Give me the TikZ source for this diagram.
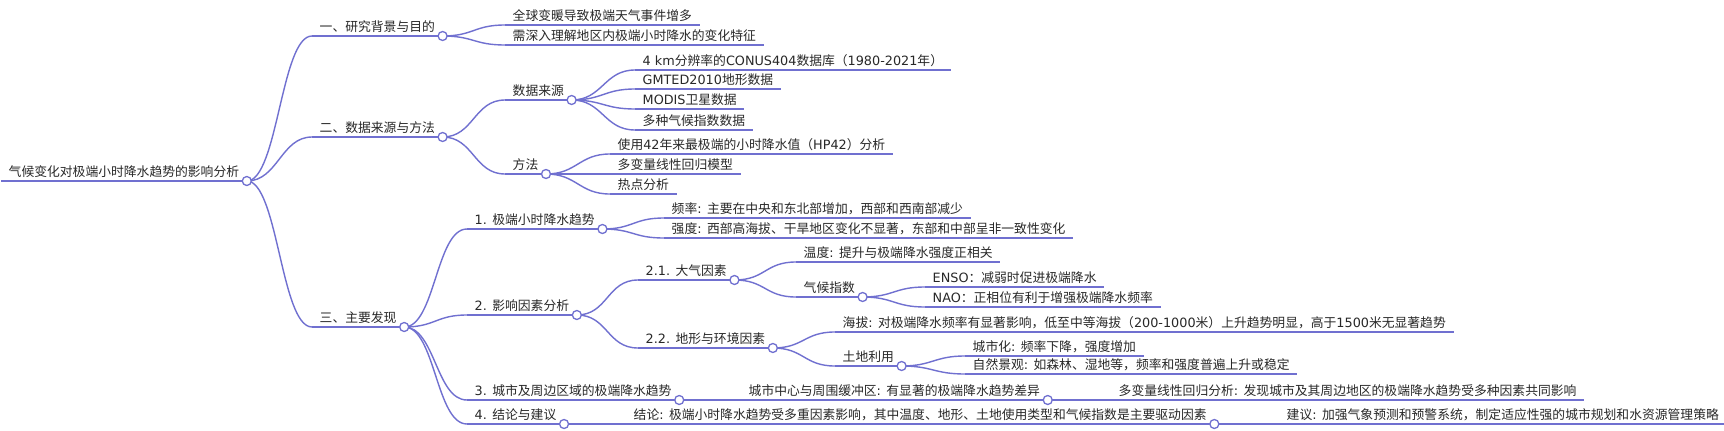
\documentclass[tikz,border=0pt]{standalone}
\usepackage{fontspec}
\setmainfont{DejaVu Sans}
\newfontfamily\latfont{DejaVu Sans}
\newfontfamily\cjkfont{Noto Sans CJK SC}
% switch to the CJK font for Chinese characters and full-width punctuation
\XeTeXinterchartokenstate=1
\newXeTeXintercharclass\cjkclass
\newcount\cjkcode
\cjkcode="3000
\loop \XeTeXcharclass\cjkcode=\cjkclass \ifnum\cjkcode<"303F \advance\cjkcode by 1 \repeat
\cjkcode="4E00
\loop \XeTeXcharclass\cjkcode=\cjkclass \ifnum\cjkcode<"9FFF \advance\cjkcode by 1 \repeat
\cjkcode="FF00
\loop \XeTeXcharclass\cjkcode=\cjkclass \ifnum\cjkcode<"FFEF \advance\cjkcode by 1 \repeat
\XeTeXinterchartoks 0 \cjkclass = {\cjkfont}
\XeTeXinterchartoks 4095 \cjkclass = {\cjkfont}
\XeTeXinterchartoks \cjkclass 0 = {\latfont}
\XeTeXinterchartoks 4095 0 = {\latfont}
\definecolor{edge}{RGB}{112,112,208}
\definecolor{ink}{RGB}{40,40,40}
\begin{document}
\begin{tikzpicture}[x=1pt, y=-1pt,
	topic/.style={anchor=south west, inner xsep=7.5pt, inner ysep=4pt, text depth=0pt, text=ink, font=\fontsize{12.8}{15}\selectfont},
	link/.style={draw=edge, line width=1.4pt},
	knob/.style={circle, draw=edge, line width=1.3pt, fill=white, minimum size=9pt, inner sep=0pt}]
	\useasboundingbox (0,0) rectangle (1724,431);
	\fill[white] (0,0) rectangle (1724,431);
	
	\node[topic] (root) at (1,181) {气候变化对极端小时降水趋势的影响分析};
	
	\node[topic] (n1) at (312,36) {一、研究背景与目的};
	\node[topic] (n11) at (505,25) {全球变暖导致极端天气事件增多};
	\node[topic] (n12) at (505,45) {需深入理解地区内极端小时降水的变化特征};
	
	\node[topic] (n2) at (312,137) {二、数据来源与方法};
	\node[topic] (n21) at (505,100) {数据来源};
	\node[topic] (n211) at (635,70) {4 km分辨率的CONUS404数据库（1980-2021年）};
	\node[topic] (n212) at (635,89) {GMTED2010地形数据};
	\node[topic] (n213) at (635,109) {MODIS卫星数据};
	\node[topic] (n214) at (635,130) {多种气候指数数据};
	\node[topic] (n22) at (505,174) {方法};
	\node[topic] (n221) at (610,154) {使用42年来最极端的小时降水值（HP42）分析};
	\node[topic] (n222) at (610,174) {多变量线性回归模型};
	\node[topic] (n223) at (610,194) {热点分析};
	
	\node[topic] (n3) at (312,327) {三、主要发现};
	\node[topic] (n31) at (467,229) {1. 极端小时降水趋势};
	\node[topic] (n311) at (664,218) {频率: 主要在中央和东北部增加，西部和西南部减少};
	\node[topic] (n312) at (664,238) {强度: 西部高海拔、干旱地区变化不显著，东部和中部呈非一致性变化};
	\node[topic] (n32) at (467,315) {2. 影响因素分析};
	\node[topic] (n321) at (638,280) {2.1. 大气因素};
	\node[topic] (n3211) at (796,262) {温度: 提升与极端降水强度正相关};
	\node[topic] (n3212) at (796,297) {气候指数};
	\node[topic] (n32121) at (925,287) {ENSO：减弱时促进极端降水};
	\node[topic] (n32122) at (925,307) {NAO：正相位有利于增强极端降水频率};
	\node[topic] (n322) at (638,348) {2.2. 地形与环境因素};
	\node[topic] (n3221) at (835,332) {海拔: 对极端降水频率有显著影响，低至中等海拔（200-1000米）上升趋势明显，高于1500米无显著趋势};
	\node[topic] (n3222) at (835,366) {土地利用};
	\node[topic] (n32221) at (965,356) {城市化: 频率下降，强度增加};
	\node[topic] (n32222) at (965,374) {自然景观: 如森林、湿地等，频率和强度普遍上升或稳定};
	\node[topic] (n33) at (467,400) {3. 城市及周边区域的极端降水趋势};
	\node[topic] (n331) at (741,400) {城市中心与周围缓冲区: 有显著的极端降水趋势差异};
	\node[topic] (n3311) at (1111,400) {多变量线性回归分析: 发现城市及其周边地区的极端降水趋势受多种因素共同影响};
	\node[topic] (n34) at (467,424) {4. 结论与建议};
	\node[topic] (n341) at (626,424) {结论: 极端小时降水趋势受多重因素影响，其中温度、地形、土地使用类型和气候指数是主要驱动因素};
	\node[topic] (n3411) at (1279,424) {建议: 加强气象预测和预警系统，制定适应性强的城市规划和水资源管理策略};
	
	% underlines
	\foreach \n in {root,n1,n11,n12,n2,n21,n211,n212,n213,n214,n22,n221,n222,n223,n3,n31,n311,n312,n32,n321,n3211,n3212,n32121,n32122,n322,n3221,n3222,n32221,n32222,n33,n331,n3311,n34,n341,n3411}
		\draw[link] (\n.south west) -- (\n.south east);
	
	% branches
	\foreach \a/\b in {root/n1,root/n2,root/n3,n1/n11,n1/n12,n2/n21,n2/n22,n21/n211,n21/n212,n21/n213,n21/n214,n22/n221,n22/n222,n22/n223,n3/n31,n3/n32,n3/n33,n3/n34,n31/n311,n31/n312,n32/n321,n32/n322,n321/n3211,n321/n3212,n3212/n32121,n3212/n32122,n322/n3221,n322/n3222,n3222/n32221,n3222/n32222,n33/n331,n331/n3311,n34/n341,n341/n3411}
		\draw[link] (\a.south east) to[out=0, in=180, distance=31pt] (\b.south west);
	
	\foreach \n in {root,n1,n2,n21,n22,n3,n31,n32,n321,n3212,n322,n3222,n33,n331,n34,n341}
		\node[knob] at (\n.south east) {};
\end{tikzpicture}
\end{document}
